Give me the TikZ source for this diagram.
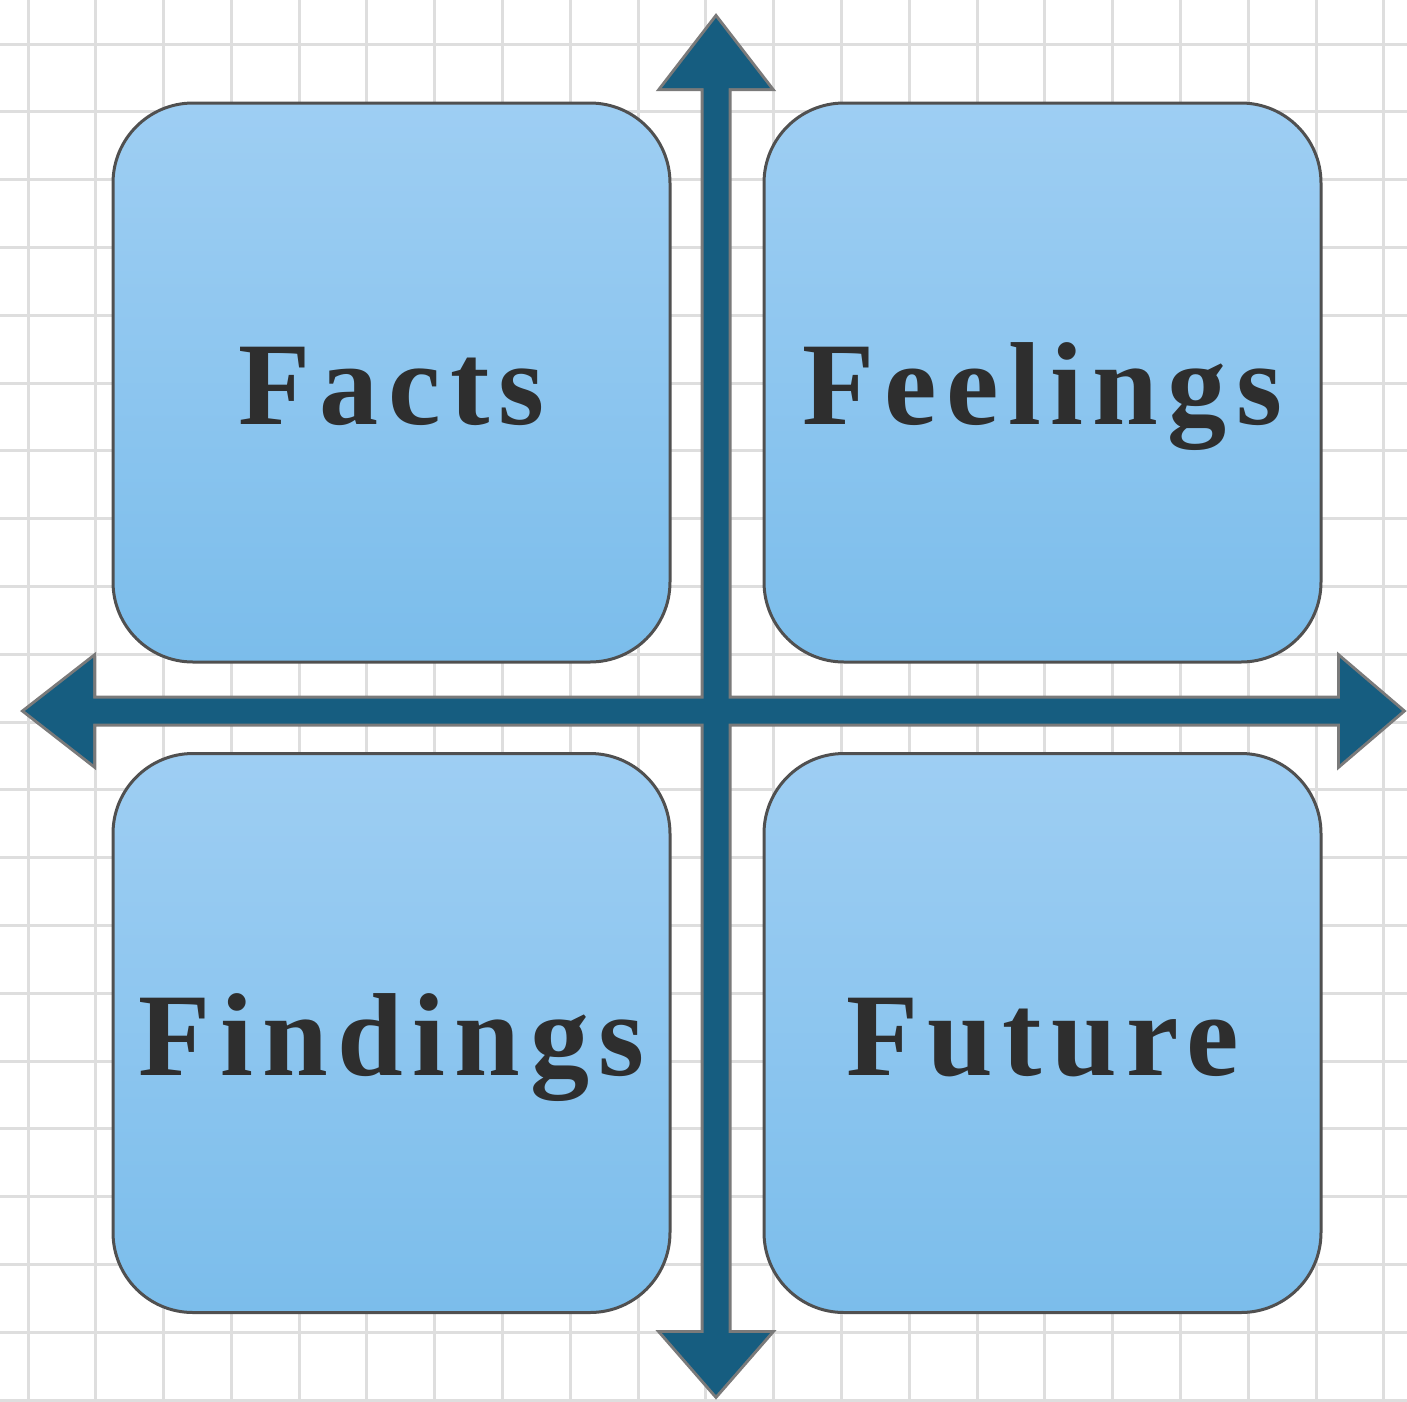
\documentclass[tikz,border=0pt]{standalone}
\usepackage{fontspec}
\newfontfamily\quadfont{Liberation Serif}[LetterSpace=8]
\usetikzlibrary{positioning}

\definecolor{gridgray}{RGB}{222,222,222}
\definecolor{boxtop}{RGB}{158,206,243}
\definecolor{boxbottom}{RGB}{123,189,235}
\definecolor{boxborder}{RGB}{80,80,80}
\definecolor{axisblue}{RGB}{22,93,128}
\definecolor{axisedge}{RGB}{122,122,122}
\definecolor{labelgray}{RGB}{46,46,46}

\tikzset{
	quadrant/.style={rectangle, rounded corners=8mm, draw=boxborder, line width=0.3mm,
		top color=boxtop, bottom color=boxbottom,
		minimum width=55.7mm, minimum height=55.9mm, inner sep=0pt,
		text height=8.4mm, text depth=0pt, text=labelgray,
		font=\quadfont\bfseries\fontsize{33.6}{40}\selectfont},
	gridline/.style={draw=gridgray, line width=0.3mm},
	axisedge/.style={draw=axisedge, line width=0.6mm, line join=miter},
	axisfill/.style={fill=axisblue}
}

\begin{document}
\begin{tikzpicture}[x=0.1mm,y=-0.1mm]%[show background grid]

	\useasboundingbox (0,0) rectangle (1407,1401);
	\fill[white] (0,0) rectangle (1407,1401);
	\draw[gridline, shift={(28,44)}, step=6.78mm] (-28,-44) grid (1379,1357);

	\node[quadrant] (facts)    at (391.5,382.5) {Facts};
	\node[quadrant] (feelings) at (1042.5,382.5) {Feelings};
	\node[quadrant] (findings) at (391.5,1033) {Findings};
	\node[quadrant] (future)   at (1042.5,1033) {Future};

	% axes: outlines first, then the fills over them
	\path[axisedge]
		(703.5,88) -- (662,88) -- (716,18) -- (770,88) -- (728.5,88)
		-- (728.5,1333) -- (770,1333) -- (716,1395) -- (662,1333) -- (703.5,1333) -- cycle
		(93,698.5) -- (93,658) -- (25,711) -- (93,764) -- (93,723.5)
		-- (1340,723.5) -- (1340,764) -- (1402,711) -- (1340,658) -- (1340,698.5) -- cycle;
	\path[axisfill]
		(703.5,88) -- (662,88) -- (716,18) -- (770,88) -- (728.5,88)
		-- (728.5,1333) -- (770,1333) -- (716,1395) -- (662,1333) -- (703.5,1333) -- cycle;
	\path[axisfill]
		(93,698.5) -- (93,658) -- (25,711) -- (93,764) -- (93,723.5)
		-- (1340,723.5) -- (1340,764) -- (1402,711) -- (1340,658) -- (1340,698.5) -- cycle;

\end{tikzpicture}
\end{document}
